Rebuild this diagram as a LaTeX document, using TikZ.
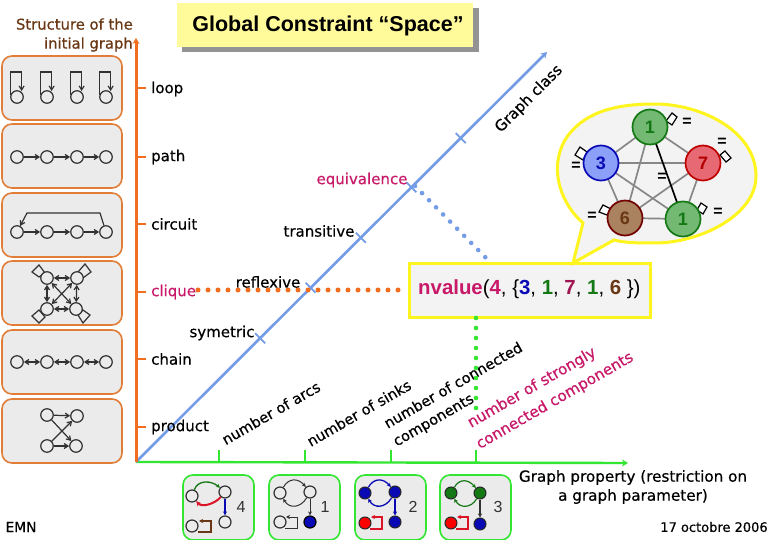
\documentclass[tikz,border=0pt]{standalone}
\usepackage{fontspec}
\setmainfont[FakeBold=0.5]{DejaVu Sans}
\newfontfamily\arialf{Liberation Sans}
\usetikzlibrary{arrows.meta,calc}
\definecolor{orax}{RGB}{240,110,30}
\definecolor{orbd}{RGB}{225,125,55}
\definecolor{pan}{RGB}{235,235,235}
\definecolor{blax}{RGB}{115,155,230}
\definecolor{grax}{RGB}{50,230,50}
\definecolor{dk}{RGB}{50,50,50}
\definecolor{mag}{RGB}{200,25,105}
\definecolor{brn}{RGB}{105,55,20}
\definecolor{gedge}{RGB}{135,135,135}
\definecolor{yel}{RGB}{255,245,30}
\definecolor{dgreen}{RGB}{20,120,20}
\definecolor{dblue}{RGB}{10,10,180}
\definecolor{dred}{RGB}{220,20,40}
\tikzset{
 x=1pt,y=-1pt,
 sidepanel/.style={draw=orbd,line width=1.6pt,fill=pan,rounded corners=10pt},
 botpanel/.style={draw=grax,line width=1.6pt,fill=pan,rounded corners=10pt},
 gn/.style={circle,draw=dk,line width=1.2pt,fill=pan,minimum size=12.5pt,inner sep=0pt},
 sn/.style={circle,draw=dk,line width=1.2pt,fill=pan,minimum size=12pt,inner sep=0pt},
 ed/.style={draw=dk,line width=1.2pt,-{Straight Barb[length=4pt,width=5pt]}},
 edb/.style={draw=dk,line width=1.2pt,{Straight Barb[length=4pt,width=5pt]}-{Straight Barb[length=4pt,width=5pt]}},
 sq/.style={draw=dk,line width=1.2pt},
 lbl/.style={inner sep=0pt,font=\fontsize{15}{17}\selectfont,text=black},
 dlbl/.style={inner sep=0pt,rotate=30,font=\fontsize{14.6}{16}\selectfont,text=black},
 mlbl/.style={inner sep=0pt,rotate=30,font=\fontsize{15.2}{16}\selectfont,text=mag},
 vn/.style={circle,line width=1.7pt,minimum size=35pt,inner sep=0pt,font=\arialf\bfseries\fontsize{18}{20}\selectfont},
 vedge/.style={draw=gedge,line width=1.7pt},
 vloop/.style={draw=black,line width=1.2pt,fill=white},
 eqs/.style={inner sep=0pt,font=\arialf\bfseries\fontsize{16}{16}\selectfont,text=black},
 nb/.style={inner sep=0pt,font=\arialf\fontsize{16}{16}\selectfont,text=dk},
}
\begin{document}
\begin{tikzpicture}
\useasboundingbox[fill=white] (0,0) rectangle (780,540);
% title
\fill[gray!85] (182,8) rectangle (479,52);
\node[fill=yel!45!white,minimum width=296pt,minimum height=44pt,inner sep=0pt] (title) at (324.5,25) {};
\node[inner sep=0pt,font=\arialf\bfseries\fontsize{21.5}{24}\selectfont] (ttxt) at (328,26) {Global Constraint “Space”};
\node[inner sep=0pt,align=right,anchor=east,text=brn,font=\fontsize{14.8}{19}\selectfont] (stru) at (133,35) {Structure of the\\initial graph};
% side panels
\foreach \n/\t in {a/56,b/124,c/193,d/261,e/330,f/399}
  \path[sidepanel] (2,\t) rectangle (122,\t+64);
% axes
\coordinate (O) at (136,462);
\coordinate (Ytop) at (136,38);
\coordinate (Xend) at (628,463);
\coordinate (Dend) at (547,52);
\draw[draw=grax,line width=2.4pt,-{Stealth[length=6pt,width=7pt]}] (O) -- (Xend);
\draw[draw=blax,line width=2.6pt,-{Stealth[length=6pt,width=7pt]}] (O) -- (Dend);
\draw[draw=orax,line width=3pt,-{Stealth[length=6pt,width=7pt]}] (O) -- (Ytop);
\foreach \y in {88,157,224,292,359,427} \draw[orax,line width=1.6pt] (136,\y) -- (146,\y);
\foreach \x in {219,305,391,476} \draw[grax,line width=1.8pt] (\x,462) -- (\x,450);
\foreach \p in {0.302,0.425,0.547,0.67,0.79} {
  \path (O) -- (Dend) coordinate[pos=\p] (t);
  \draw[blax,line width=1.8pt] ($(t)+(-5,-5)$) -- ($(t)+(5,5)$);
}
% labels left
\node[lbl,anchor=west] (l1) at (151,89) {loop};
\node[lbl,anchor=west] (l2) at (151,157) {path};
\node[lbl,anchor=west] (l3) at (151,224) {circuit};
\node[lbl,anchor=west,text=mag] (l4) at (151,292) {clique};
\node[lbl,anchor=west] (l5) at (151,359) {chain};
\node[lbl,anchor=west] (l6) at (151,427) {product};
% diag labels
\node[lbl,text=mag] (eq) at (362,180) {equivalence};
\node[lbl] (tr) at (319,231) {transitive};
\node[lbl] (re) at (268,282) {reflexive};
\node[lbl] (sy) at (222,333) {symetric};
\node[inner sep=0pt,rotate=45,font=\fontsize{15}{17}\selectfont] (gc) at (529,99) {Graph class};
\node[dlbl] (p1) at (271,413) {number of arcs};
\node[dlbl] (p2) at (359,413) {number of sinks};
\node[dlbl] (p3) at (453,385) {number of connected};
\node[dlbl] (p3b) at (434,421) {components};
\node[mlbl] (p4) at (532,388) {number of strongly};
\node[mlbl] (p4b) at (555,401) {connected components};
% yellow box and dotted
\coordinate (dotO1) at (198,290);
\coordinate (dotB1) at (415,186);
\coordinate (dotB2) at (490,262);
\coordinate (dotG1) at (476,318);
\coordinate (dotG2) at (476,410);
\draw[orax,line width=5pt,line cap=round,dash pattern=on 0pt off 10pt] (dotO1) -- (408,290);
\node[draw=yel,line width=3pt,fill=pan!60!white,minimum width=241pt,minimum height=54pt,inner sep=0pt] (nv) at (530,291) {};
\node[inner sep=0pt,anchor=west,font=\arialf\fontsize{20.4}{22}\selectfont] (nvt) at (418,289) {\textcolor{mag}{\bfseries nvalue}(\textcolor{mag}{\bfseries 4}, \{\textcolor{dblue}{\bfseries 3}, \textcolor{dgreen}{\bfseries 1}, \textcolor{mag!80!black}{\bfseries 7}, \textcolor{dgreen}{\bfseries 1}, \textcolor{brn}{\bfseries 6} \})};
\draw[blax,line width=4.6pt,line cap=round,dash pattern=on 0pt off 10pt] (dotB1) -- (dotB2);
\draw[grax,line width=4.6pt,line cap=round,dash pattern=on 0pt off 10pt] (dotG1) -- (dotG2);
% bubble
\draw[yel,line width=3pt,fill=pan!60!white,line join=miter]
  (583,223) .. controls (562,205) and (548,170) .. (565,140)
  .. controls (585,108) and (625,104) .. (655,104)
  .. controls (700,104) and (755,130) .. (756,175)
  .. controls (757,215) and (700,243) .. (655,243)
  .. controls (640,243) and (625,243) .. (614,240)
  -- (573,263) -- cycle;
% value graph
\tikzset{vgreen/.style={vn,draw=dgreen,fill={rgb,255:red,115;green,185;blue,115},text=dgreen}}
\coordinate (pv1) at (650,127);
\coordinate (pv1b) at (683,219);
\coordinate (pv3) at (601,163);
\coordinate (pv7) at (703,163);
\coordinate (pv6) at (625,218);
\foreach \a/\b in {pv1/pv3,pv1/pv7,pv1/pv6,pv3/pv7,pv3/pv6,pv3/pv1b,pv7/pv6,pv7/pv1b,pv6/pv1b}
  \draw[vedge] (\a) -- (\b);
\draw[black,line width=1.7pt] (pv1) -- (pv1b);
\draw[vloop] (pv1) ++(16,-6) -- ++(6,-8) -- ++(5,4) -- ++(-5,8) -- cycle;
\draw[vloop] (pv3) ++(-26,-8) -- ++(5,-8) -- ++(7,5) -- ++(-4,8) -- cycle;
\draw[vloop] (pv7) ++(17,-8) -- ++(5,-4) -- ++(6,7) -- ++(-5,4) -- cycle;
\draw[vloop] (pv6) ++(-26,-6) -- ++(4,-7) -- ++(8,4) -- ++(-4,6) -- cycle;
\draw[vloop] (pv1b) ++(14,-9) -- ++(4,-7) -- ++(6,4) -- ++(-4,7) -- cycle;
\node[vgreen] (v1) at (pv1) {1};
\node[vn,draw=dblue,fill={rgb,255:red,140;green,160;blue,250},text=dblue] (v3) at (pv3) {3};
\node[vn,draw=red!75!black,fill={rgb,255:red,230;green,105;blue,115},text=red!70!black] (v7) at (pv7) {7};
\node[vn,draw=red!45!black,fill={rgb,255:red,170;green,130;blue,95},text=brn] (v6) at (pv6) {6};
\node[vgreen] (v1b) at (pv1b) {1};
\node[eqs] (q1) at (687,122) {=};
\node[eqs] (q2) at (722,142) {=};
\node[eqs] (q3) at (576,166) {=};
\node[eqs] (q4) at (662,177) {=};
\node[eqs] (q5) at (592,216) {=};
\node[eqs] (q6) at (718,212) {=};
% side graphs: loop
\foreach \i/\x in {1/17,2/47,3/77,4/106} {
  \node[gn] (L\i) at (\x,97) {};
  \draw[ed] (L\i.west) ++(0,-2) -- ++(0,-23) -- ++(11.5,0) -- ++(0,19);
}
% path
\foreach \i/\x in {1/17,2/47,3/77,4/106} \node[gn] (P\i) at (\x,157) {};
\draw[ed] (P1) -- (P2); \draw[ed] (P2) -- (P3); \draw[ed] (P3) -- (P4);
% circuit
\foreach \i/\x in {1/17,2/47,3/77,4/106} \node[gn] (C\i) at (\x,232) {};
\coordinate (cA) at (27,213); \coordinate (cB) at (100,213);
\draw[ed] (C1) -- (C2); \draw[ed] (C2) -- (C3); \draw[ed] (C3) -- (C4);
\draw[ed] (C4) -- (cB) -- (cA) -- (C1);
% clique
\coordinate (pK1) at (47,278); \coordinate (pK2) at (77,278);
\coordinate (pK3) at (47,309); \coordinate (pK4) at (76,309);
\draw[sq] (pK1) ++(-15,-6) -- ++(7,-7) -- ++(6,8) -- ++(-6,4) -- cycle;
\draw[sq] (pK2) ++(1,-6) -- ++(7,-8) -- ++(6,8) -- ++(-8,6) -- cycle;
\draw[sq] (pK3) ++(-15,7) -- ++(7,7) -- ++(6,-6) -- ++(-6,-7) -- cycle;
\draw[sq] (pK4) ++(2,6) -- ++(5,8) -- ++(7,-8) -- ++(-7,-5) -- cycle;
\node[gn] (K1) at (pK1) {}; \node[gn] (K2) at (pK2) {};
\node[gn] (K3) at (pK3) {}; \node[gn] (K4) at (pK4) {};
\draw[edb] (K1) -- (K2); \draw[edb] (K3) -- (K4); \draw[edb] (K1) -- (K3);
\draw[edb] (K2) -- (K4); \draw[edb] (K1) -- (K4); \draw[edb] (K2) -- (K3);
% chain
\foreach \i/\x in {1/17,2/47,3/77,4/106} \node[gn] (H\i) at (\x,362) {};
\draw[edb] (H1) -- (H2); \draw[edb] (H2) -- (H3); \draw[edb] (H3) -- (H4);
% product
\node[gn] (R1) at (47,415) {}; \node[gn] (R2) at (77,416) {};
\node[gn] (R3) at (47,446) {}; \node[gn] (R4) at (76,446) {};
\draw[ed] (R1) -- (R2); \draw[ed] (R1) -- (R4); \draw[ed] (R3) -- (R2); \draw[ed] (R3) -- (R4);
% bottom panels
\foreach \x in {183,269,355,440} \path[botpanel] (\x,475) rectangle (\x+71,540);
\tikzset{tip/.style={-{Stealth[length=4pt,width=4pt]}}}
% panel 1
\node[sn] (A1) at (192,496) {}; \node[sn] (A2) at (225,492) {};
\node[sn] (A3) at (225,522) {}; \node[sn] (A4) at (192,526) {};
\draw[dgreen,line width=1.3pt,tip] (A1) to[out=70,in=140,looseness=1.1] (A2);
\draw[dred,line width=2pt,-{Stealth[length=5pt,width=5pt]}] (A2) to[out=230,in=310,looseness=.9] (A1);
\draw[dblue,line width=1.3pt,tip] (A2) -- (A3);
\draw[brn,line width=1.4pt,tip] (A4) ++(6,6) -- ++(13,0) -- ++(0,-11) -- ++(-12,0);
\node[nb] (An) at (241,507) {4};
% panel 2
\node[sn] (B1) at (280,493) {}; \node[sn] (B2) at (310,492) {};
\node[circle,draw=black,line width=1.2pt,fill=dblue,minimum size=12pt,inner sep=0pt] (B3) at (310,522) {};
\node[sn] (B4) at (280,522) {};
\draw[dk,line width=1pt,tip] (B1) to[out=60,in=130,looseness=1.3] (B2);
\draw[dk,line width=1pt,tip] (B2) to[out=240,in=300,looseness=1.3] (B1);
\draw[dk,line width=1pt,tip] (B2) -- (B3);
\draw[dk,line width=1pt,tip] (B4) ++(5,6) -- ++(12,0) -- ++(0,-11) -- ++(-11,0);
\node[nb] (Bn) at (325,507) {1};
% panel 3
\tikzset{fnb/.style={circle,draw=dk!80!black,line width=1pt,fill=dblue,minimum size=12pt,inner sep=0pt},
 fnr/.style={circle,draw=dk!80!black,line width=1pt,fill=red,minimum size=12pt,inner sep=0pt},
 fng/.style={circle,draw=dk!80!black,line width=1pt,fill=dgreen,minimum size=12pt,inner sep=0pt}}
\node[fnb] (D1) at (365,493) {}; \node[fnb] (D2) at (395,492) {};
\node[fnb] (D3) at (395,522) {}; \node[fnr] (D4) at (365,523) {};
\draw[dblue,line width=1.3pt,tip] (D1) to[out=60,in=130,looseness=1.3] (D2);
\draw[dblue,line width=1.3pt,tip] (D2) to[out=240,in=300,looseness=1.3] (D1);
\draw[dblue,line width=1.3pt,tip] (D2) -- (D3);
\draw[dred,line width=1.2pt,tip] (D4) ++(5,6) -- ++(12,0) -- ++(0,-12) -- ++(-11,0);
\node[nb] (Dn) at (413,507) {2};
% panel 4
\node[fng] (E1) at (451,493) {}; \node[fng] (E2) at (480,493) {};
\node[fnb] (E3) at (480,524) {}; \node[fnr] (E4) at (451,523) {};
\draw[dgreen,line width=1.2pt,tip] (E1) to[out=60,in=130,looseness=1.3] (E2);
\draw[dgreen,line width=1.2pt,tip] (E2) to[out=240,in=300,looseness=1.3] (E1);
\draw[dk,line width=1.2pt,tip] (E2) -- (E3);
\draw[dred,line width=1.2pt,tip] (E4) ++(5,6) -- ++(12,0) -- ++(0,-12) -- ++(-11,0);
\node[nb] (En) at (498,507) {3};
% footer
\node[inner sep=0pt,align=center,font=\fontsize{15.2}{19}\selectfont] (gp) at (633,487) {Graph property (restriction on\\a graph parameter)};
\node[inner sep=0pt,font=\fontsize{13.8}{15}\selectfont] (emn) at (21,527) {EMN};
\node[inner sep=0pt,font=\fontsize{13}{15}\selectfont] (dt) at (714,527) {17 octobre 2006};
\end{tikzpicture}
\end{document}
